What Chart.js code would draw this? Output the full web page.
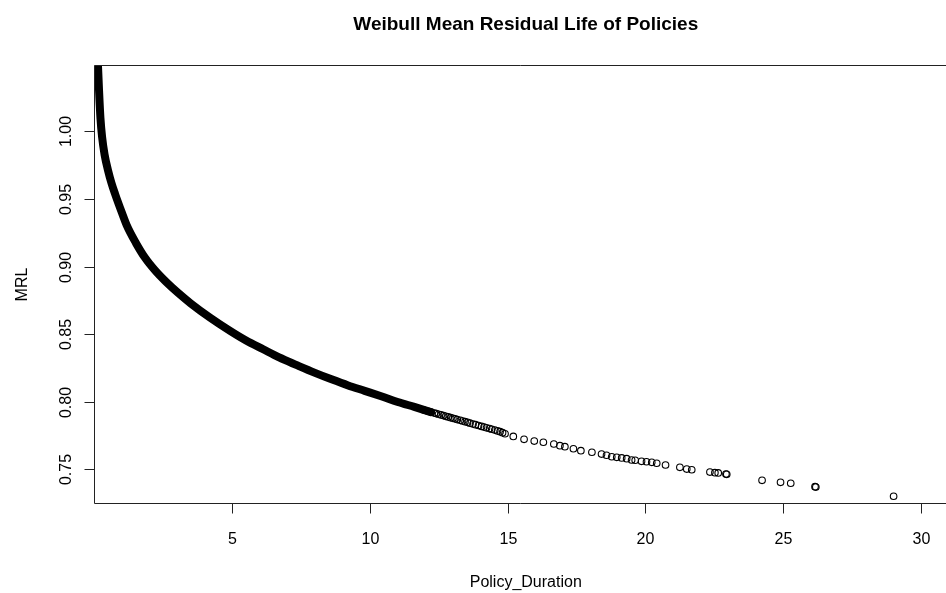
<!DOCTYPE html>
<html>
<head>
<meta charset="utf-8">
<script src="https://cdn.jsdelivr.net/npm/chart.js@4"></script>
<style>
  html, body { margin: 0; padding: 0; background: #fff; overflow: hidden; }
  canvas { display: block; }
</style>
</head>
<body>
<canvas id="mrl-plot" width="946" height="593"></canvas>
<script>
// dense part of the curve (thousands of overlapping circles form a solid band)
const durationBand = [0.02, 0.06, 0.10, 0.13, 0.17, 0.22, 0.28, 0.37, 0.50, 0.62, 0.75, 1.00, 1.17, 1.50, 1.83,
    2.20, 2.60, 3.00, 3.50, 4.20, 4.92, 5.50, 6.12, 6.70, 7.34, 8.00, 8.60, 9.20, 9.80, 10.40, 11.00, 11.60, 12.20];
const mrlBand = [1.120, 1.085, 1.063, 1.049, 1.030, 1.010, 0.996, 0.983, 0.971, 0.962, 0.954, 0.940, 0.931, 0.918, 0.907,
    0.8975, 0.889, 0.8815, 0.873, 0.8625, 0.8528, 0.8457, 0.8392, 0.8332, 0.8275, 0.8218, 0.817, 0.8125, 0.8085, 0.8045, 0.8003, 0.7966, 0.7928];

// longer policies, where single circles can be told apart
const durationObs = [11.95, 12.10, 12.22, 12.33, 12.40, 12.48, 12.57, 12.66, 12.74, 12.83, 12.92, 13.00, 13.08, 13.16,
    13.27, 13.35, 13.44, 13.53, 13.62, 13.73, 13.82, 13.93, 14.04, 14.13, 14.22, 14.33, 14.41, 14.52, 14.62, 14.71, 14.80, 14.89,
    15.19, 15.58, 15.95, 16.28, 16.66, 16.88, 17.06, 17.37, 17.64, 18.04, 18.39, 18.57, 18.76, 18.94,
    19.12, 19.30, 19.48, 19.61, 19.84, 20.02, 20.21, 20.39, 20.71, 21.23, 21.48, 21.66,
    22.32, 22.50, 22.62, 22.90, 22.93, 24.21, 24.88, 25.25, 26.13, 26.16, 28.98];
const mrlObs = [0.7943, 0.7934, 0.7927, 0.7921, 0.7917, 0.7912, 0.7907, 0.7902, 0.7897, 0.7892, 0.7887, 0.7882, 0.7878, 0.7873,
    0.7867, 0.7862, 0.7857, 0.7852, 0.7846, 0.7840, 0.7835, 0.7829, 0.7822, 0.7817, 0.7812, 0.7806, 0.7801, 0.7795, 0.7789, 0.7783, 0.7776, 0.7768,
    0.7748, 0.7727, 0.7714, 0.7705, 0.7692, 0.7680, 0.7672, 0.7657, 0.7643, 0.7631, 0.7618, 0.7609, 0.7598, 0.7594,
    0.7589, 0.7584, 0.7574, 0.7572, 0.7564, 0.7561, 0.7557, 0.7550, 0.7537, 0.7520, 0.7507, 0.7502,
    0.7485, 0.7480, 0.7478, 0.7470, 0.7468, 0.7424, 0.7409, 0.7402, 0.7377, 0.7374, 0.7306];

const xTicks = [5, 10, 15, 20, 25, 30];
const yTicks = [0.75, 0.80, 0.85, 0.90, 0.95, 1.00];
const yTickLabels = ['0.75', '0.80', '0.85', '0.90', '0.95', '1.00'];

// the plot region runs a little past the right edge of the canvas
const xRegionEnd = 31.28;

const FONT = "'Liberation Sans', Arial, sans-serif";
const INK = '#000';

// base-graphics look: open-ended box, outward ticks, vertical y labels
const baseAxes = {
    id: 'baseAxes',
    afterDraw(chart) {
        const { ctx, chartArea: a, scales: { x, y } } = chart;
        const right = x.getPixelForValue(xRegionEnd);
        ctx.save();
        ctx.strokeStyle = '#222';
        ctx.lineWidth = 1;
        ctx.beginPath();
        ctx.moveTo(chart.width, a.top);
        ctx.lineTo(a.left, a.top);
        ctx.lineTo(a.left, a.bottom);
        ctx.lineTo(chart.width, a.bottom);
        ctx.stroke();

        ctx.fillStyle = INK;
        ctx.font = '16px ' + FONT;
        ctx.textAlign = 'center';
        ctx.textBaseline = 'alphabetic';

        xTicks.forEach(v => {
            const px = Math.floor(x.getPixelForValue(v)) + 0.5;
            ctx.beginPath();
            ctx.moveTo(px, a.bottom);
            ctx.lineTo(px, a.bottom + 10);
            ctx.stroke();
            ctx.fillText(String(v), px, 543.5);
        });

        yTicks.forEach((v, i) => {
            const py = Math.floor(y.getPixelForValue(v)) + 0.5;
            ctx.beginPath();
            ctx.moveTo(a.left, py);
            ctx.lineTo(a.left - 10, py);
            ctx.stroke();
            ctx.save();
            ctx.translate(70.5, py);
            ctx.rotate(-Math.PI / 2);
            ctx.fillText(yTickLabels[i], 0, 0);
            ctx.restore();
        });

        const midX = (a.left + right) / 2;
        const midY = (a.top + a.bottom) / 2;
        ctx.fillText('Policy_Duration', midX, 587);

        ctx.save();
        ctx.translate(26.5, midY);
        ctx.rotate(-Math.PI / 2);
        ctx.fillText('MRL', 0, 0);
        ctx.restore();

        ctx.font = 'bold 19px ' + FONT;
        ctx.fillText('Weibull Mean Residual Life of Policies', midX, 30);
        ctx.restore();
    }
};

const bandData = durationBand.map((d, i) => ({ x: d, y: mrlBand[i] }));
const obsData = durationObs.map((d, i) => ({ x: d, y: mrlObs[i] }));

new Chart(document.getElementById('mrl-plot'), {
    type: 'scatter',
    data: {
        datasets: [{
            label: 'MRL band',
            data: bandData,
            showLine: true,
            borderColor: INK,
            borderWidth: 8,
            borderCapStyle: 'round',
            borderJoinStyle: 'round',
            cubicInterpolationMode: 'monotone',
            pointRadius: 0,
            clip: 0
        }, {
            label: 'MRL',
            data: obsData,
            pointStyle: 'circle',
            pointRadius: 3.3,
            borderWidth: 1.1,
            borderColor: INK,
            backgroundColor: 'rgba(0,0,0,0)'
        }]
    },
    options: {
        responsive: false,
        devicePixelRatio: 1,
        animation: false,
        layout: { autoPadding: false, padding: { top: 65.5, right: 0, bottom: 0, left: 0 } },
        plugins: { legend: { display: false }, tooltip: { enabled: false }, title: { display: false } },
        scales: {
            x: {
                type: 'linear',
                min: 0.004,
                max: 30.88,
                grid: { display: false },
                border: { display: false },
                ticks: { display: false },
                afterFit: s => { s.height = 89.5; }
            },
            y: {
                type: 'linear',
                min: 0.72524,
                max: 1.04894,
                grid: { display: false },
                border: { display: false },
                ticks: { display: false },
                afterFit: s => { s.width = 94.5; }
            }
        }
    },
    plugins: [baseAxes]
});
</script>
</body>
</html>
